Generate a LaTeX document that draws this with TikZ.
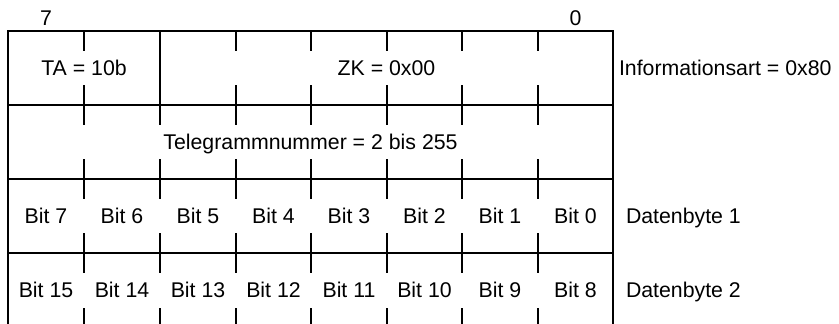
\documentclass[tikz,border=0pt]{standalone}
\usepackage{fontspec}
\setmainfont{Liberation Sans}
\begin{document}
\begin{tikzpicture}[x=1pt,y=-1pt,line width=2pt,line cap=rect,line join=miter,
  lbl/.style={font=\fontsize{21.3}{25}\selectfont,inner sep=0pt,anchor=base},
  side/.style={lbl,anchor=base west}]
\useasboundingbox (0,0) rectangle (839,324);
% frame and row lines
\draw (8,324) -- (8,31) -- (613,31) -- (613,324);
\foreach \y in {105,179,253} \draw (8,\y) -- (613,\y);
\draw (160,31) -- (160,105);
% ticks
\foreach \x in {84,236,311,387,462,538} {
  \draw (\x,31) -- (\x,50);
  \draw (\x,86) -- (\x,105);
}
\foreach \x in {84,160,236,311,387,462,538} {
  \draw (\x,105) -- (\x,124);
  \draw (\x,160) -- (\x,179);
  \draw (\x,179) -- (\x,198);
  \draw (\x,234) -- (\x,253);
  \draw (\x,253) -- (\x,272);
  \draw[line cap=butt] (\x,308) -- (\x,324);
}
% bit numbers
\node[lbl] (n7) at (46,25) {7};
\node[lbl] (n0) at (575.5,25) {0};
% row 1
\node[lbl] (ta) at (84,75.6) {TA = 10b};
\node[lbl] (zk) at (386.5,75.6) {ZK = 0x00};
\node[side] (info) at (618,75.6) {Informationsart = 0x80};
% row 2
\node[lbl] (tn) at (310.5,149.6) {Telegrammnummer = 2 bis 255};
% row 3 and 4
\foreach \i/\x in {0/46,1/122,2/198,3/273.5,4/349,5/424.5,6/500,7/575.5} {
  \pgfmathtruncatemacro{\hi}{7-\i}
  \pgfmathtruncatemacro{\hii}{15-\i}
  \node[lbl] (b\hi) at (\x,223.6) {Bit \hi};
  \node[lbl] (b\hii) at (\x,297.6) {Bit \hii};
}
\node[side] (db1) at (625,223.6) {Datenbyte 1};
\node[side] (db2) at (625,297.6) {Datenbyte 2};
\end{tikzpicture}
\end{document}
